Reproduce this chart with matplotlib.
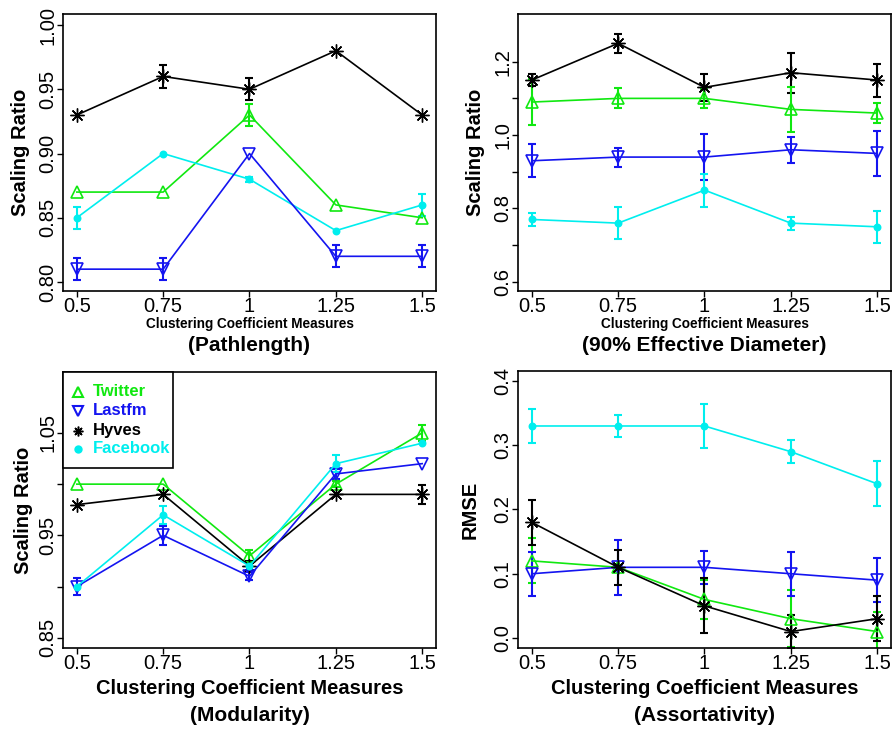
import numpy as np
import matplotlib.pyplot as plt
from matplotlib.patches import Rectangle

plt.rcParams['font.family'] = ['Liberation Sans', 'DejaVu Sans']

x = [0.5, 0.75, 1.0, 1.25, 1.5]
x_labels = ['0.5', '0.75', '1', '1.25', '1.5']
networks = ['Twitter', 'Lastfm', 'Hyves', 'Facebook']

# Pathlength
path_twitter = [0.87, 0.87, 0.93, 0.86, 0.85]
path_twitter_err = [0, 0, 0.0085, 0, 0]
path_lastfm = [0.81, 0.81, 0.90, 0.82, 0.82]
path_lastfm_err = [0.0085, 0.0085, 0, 0.0085, 0.0085]
path_hyves = [0.93, 0.96, 0.95, 0.98, 0.93]
path_hyves_err = [0, 0.009, 0.0085, 0, 0]
path_facebook = [0.85, 0.90, 0.88, 0.84, 0.86]
path_facebook_err = [0.0085, 0, 0.002, 0, 0.0087]

# 90% effective diameter
diam_twitter = [1.09, 1.10, 1.10, 1.07, 1.06]
diam_twitter_err = [0.063, 0.027, 0.025, 0.061, 0.027]
diam_lastfm = [0.93, 0.94, 0.94, 0.96, 0.95]
diam_lastfm_err = [0.045, 0.026, 0.062, 0.035, 0.061]
diam_hyves = [1.15, 1.25, 1.13, 1.17, 1.15]
diam_hyves_err = [0.017, 0.026, 0.036, 0.055, 0.045]
diam_facebook = [0.77, 0.76, 0.85, 0.76, 0.75]
diam_facebook_err = [0.018, 0.044, 0.045, 0.018, 0.044]

# Modularity
mod_twitter = [1.00, 1.00, 0.93, 1.00, 1.05]
mod_twitter_err = [0, 0, 0.006, 0.003, 0.008]
mod_lastfm = [0.90, 0.95, 0.91, 1.01, 1.02]
mod_lastfm_err = [0.008, 0.009, 0.004, 0.005, 0]
mod_hyves = [0.98, 0.99, 0.92, 0.99, 0.99]
mod_hyves_err = [0, 0, 0.005, 0, 0.009]
mod_facebook = [0.90, 0.97, 0.92, 1.02, 1.04]
mod_facebook_err = [0, 0.009, 0, 0.008, 0]

# Assortativity (RMSE)
ass_twitter = [0.12, 0.11, 0.06, 0.03, 0.01]
ass_twitter_err = [0.035, 0, 0.03, 0.044, 0.03]
ass_lastfm = [0.10, 0.11, 0.11, 0.10, 0.09]
ass_lastfm_err = [0.034, 0.043, 0.026, 0.034, 0.034]
ass_hyves = [0.18, 0.11, 0.05, 0.01, 0.03]
ass_hyves_err = [0.035, 0.027, 0.043, 0.026, 0.035]
ass_facebook = [0.33, 0.33, 0.33, 0.29, 0.24]
ass_facebook_err = [0.026, 0.017, 0.035, 0.018, 0.035]

colors = {'Twitter': '#10e810', 'Lastfm': '#1414f0', 'Hyves': 'black', 'Facebook': '#00eeee'}
markers = {'Twitter': '^', 'Lastfm': 'v', 'Hyves': (8, 2, 0), 'Facebook': 'o'}
msizes = {'Twitter': 9, 'Lastfm': 9, 'Hyves': 10, 'Facebook': 4.5}

W, H = 895, 729
fig = plt.figure(figsize=(W / 100, H / 100), dpi=100)


def px_axes(left, top, right, bottom):
    return fig.add_axes([left / W, 1 - bottom / H, (right - left) / W, (bottom - top) / H])


def draw_series(ax, name, vals, errs):
    c = colors[name]
    filled = name in ('Hyves', 'Facebook')
    ax.plot(x, vals, color=c, lw=1.2, marker=markers[name], ms=msizes[name],
            mfc=c if filled else 'none', mec=c, mew=1.0 if name == 'Hyves' else 1.2, zorder=3)
    xi = [a for a, e in zip(x, errs) if e > 0]
    vi = [v for v, e in zip(vals, errs) if e > 0]
    ei = [e for e in errs if e > 0]
    if xi:
        ax.errorbar(xi, vi, yerr=ei, fmt='none', ecolor=c, elinewidth=1.5,
                    capsize=3.2, capthick=1.5, zorder=2)


def style_axes(ax, ylim, yticks, ylabels, ylabel, small_xlabel, subtitle):
    ax.set_xlim(0.46, 1.54)
    ax.set_ylim(*ylim)
    ax.set_xticks(x)
    ax.set_xticklabels(x_labels, fontsize=14.5)
    ax.set_yticks(yticks)
    ax.set_yticklabels(ylabels, fontsize=14.5, rotation=90, va='center')
    ax.tick_params(length=4, width=1)
    ax.tick_params(axis='x', pad=0.5)
    ax.tick_params(axis='y', pad=0)
    for s in ax.spines.values():
        s.set_linewidth(1.2)
    ax.set_ylabel(ylabel, fontsize=14.5, fontweight='bold')
    if small_xlabel:
        ax.text(0.5, -0.12, 'Clustering Coefficient Measures', transform=ax.transAxes,
                ha='center', va='center', fontsize=9.8, fontweight='bold')
        ax.text(0.5, -0.197, subtitle, transform=ax.transAxes,
                ha='center', va='center', fontsize=15, fontweight='bold')
    else:
        ax.text(0.5, -0.145, 'Clustering Coefficient Measures', transform=ax.transAxes,
                ha='center', va='center', fontsize=14.5, fontweight='bold')
        ax.text(0.5, -0.243, subtitle, transform=ax.transAxes,
                ha='center', va='center', fontsize=15, fontweight='bold')


# Pathlength
ax1 = px_axes(63, 14, 436, 291)
for name, v, e in [('Hyves', path_hyves, path_hyves_err), ('Twitter', path_twitter, path_twitter_err),
                   ('Facebook', path_facebook, path_facebook_err), ('Lastfm', path_lastfm, path_lastfm_err)]:
    draw_series(ax1, name, v, e)
style_axes(ax1, (0.793, 1.0086), [0.80, 0.85, 0.90, 0.95, 1.00],
           ['0.80', '0.85', '0.90', '0.95', '1.00'], 'Scaling Ratio', True, '(Pathlength)')
ax1.yaxis.labelpad = 6

# 90% Effective Diameter
ax2 = px_axes(518, 14, 891, 291)
for name, v, e in [('Hyves', diam_hyves, diam_hyves_err), ('Twitter', diam_twitter, diam_twitter_err),
                   ('Lastfm', diam_lastfm, diam_lastfm_err), ('Facebook', diam_facebook, diam_facebook_err)]:
    draw_series(ax2, name, v, e)
style_axes(ax2, (0.575, 1.33), [0.6, 0.7, 0.8, 0.9, 1.0, 1.1, 1.2],
           ['0.6', '', '0.8', '', '1.0', '', '1.2'], 'Scaling Ratio', True, '(90% Effective Diameter)')
ax2.yaxis.labelpad = 6

# Modularity
ax3 = px_axes(63, 372, 436, 648)
for name, v, e in [('Twitter', mod_twitter, mod_twitter_err), ('Hyves', mod_hyves, mod_hyves_err),
                   ('Lastfm', mod_lastfm, mod_lastfm_err), ('Facebook', mod_facebook, mod_facebook_err)]:
    draw_series(ax3, name, v, e)
style_axes(ax3, (0.840, 1.1095), [0.85, 0.90, 0.95, 1.00, 1.05],
           ['0.85', '', '0.95', '', '1.05'], 'Scaling Ratio', False, '(Modularity)')
ax3.yaxis.labelpad = 4

# legend box drawn by hand (R style: tight on the right)
def ax3_frac(px, py):
    return (px - 63) / 373, (648 - py) / 276

bx0, by0 = ax3_frac(63, 468)
bx1, by1 = ax3_frac(173, 372)
ax3.add_patch(Rectangle((bx0, by0), bx1 - bx0, by1 - by0, transform=ax3.transAxes,
                        facecolor='white', edgecolor='black', lw=1.2, zorder=5, clip_on=False))
for n, row_y in zip(networks, [392, 411, 431, 449]):
    mx, my = ax3_frac(78, row_y)
    tx, _ = ax3_frac(93, row_y)
    c = colors[n]
    ax3.plot([mx], [my], transform=ax3.transAxes, ls='none', marker=markers[n],
             ms=7 if n != 'Facebook' else 4.5, mfc=c if n in ('Hyves', 'Facebook') else 'none',
             mec=c, mew=1.5 if n != 'Hyves' else 1.1, zorder=6, clip_on=False)
    ax3.text(tx, my, n, transform=ax3.transAxes, color=c, fontsize=12, fontweight='bold',
             ha='left', va='center', zorder=6)

# Assortativity
ax4 = px_axes(518, 371, 891, 648)
for name, v, e in [('Facebook', ass_facebook, ass_facebook_err), ('Twitter', ass_twitter, ass_twitter_err),
                   ('Lastfm', ass_lastfm, ass_lastfm_err), ('Hyves', ass_hyves, ass_hyves_err)]:
    draw_series(ax4, name, v, e)
style_axes(ax4, (-0.0156, 0.4156), [0.0, 0.1, 0.2, 0.3, 0.4],
           ['0.0', '0.1', '0.2', '0.3', '0.4'], 'RMSE', False, '(Assortativity)')
ax4.yaxis.labelpad = 10

fig.savefig('out.png', dpi=100)
